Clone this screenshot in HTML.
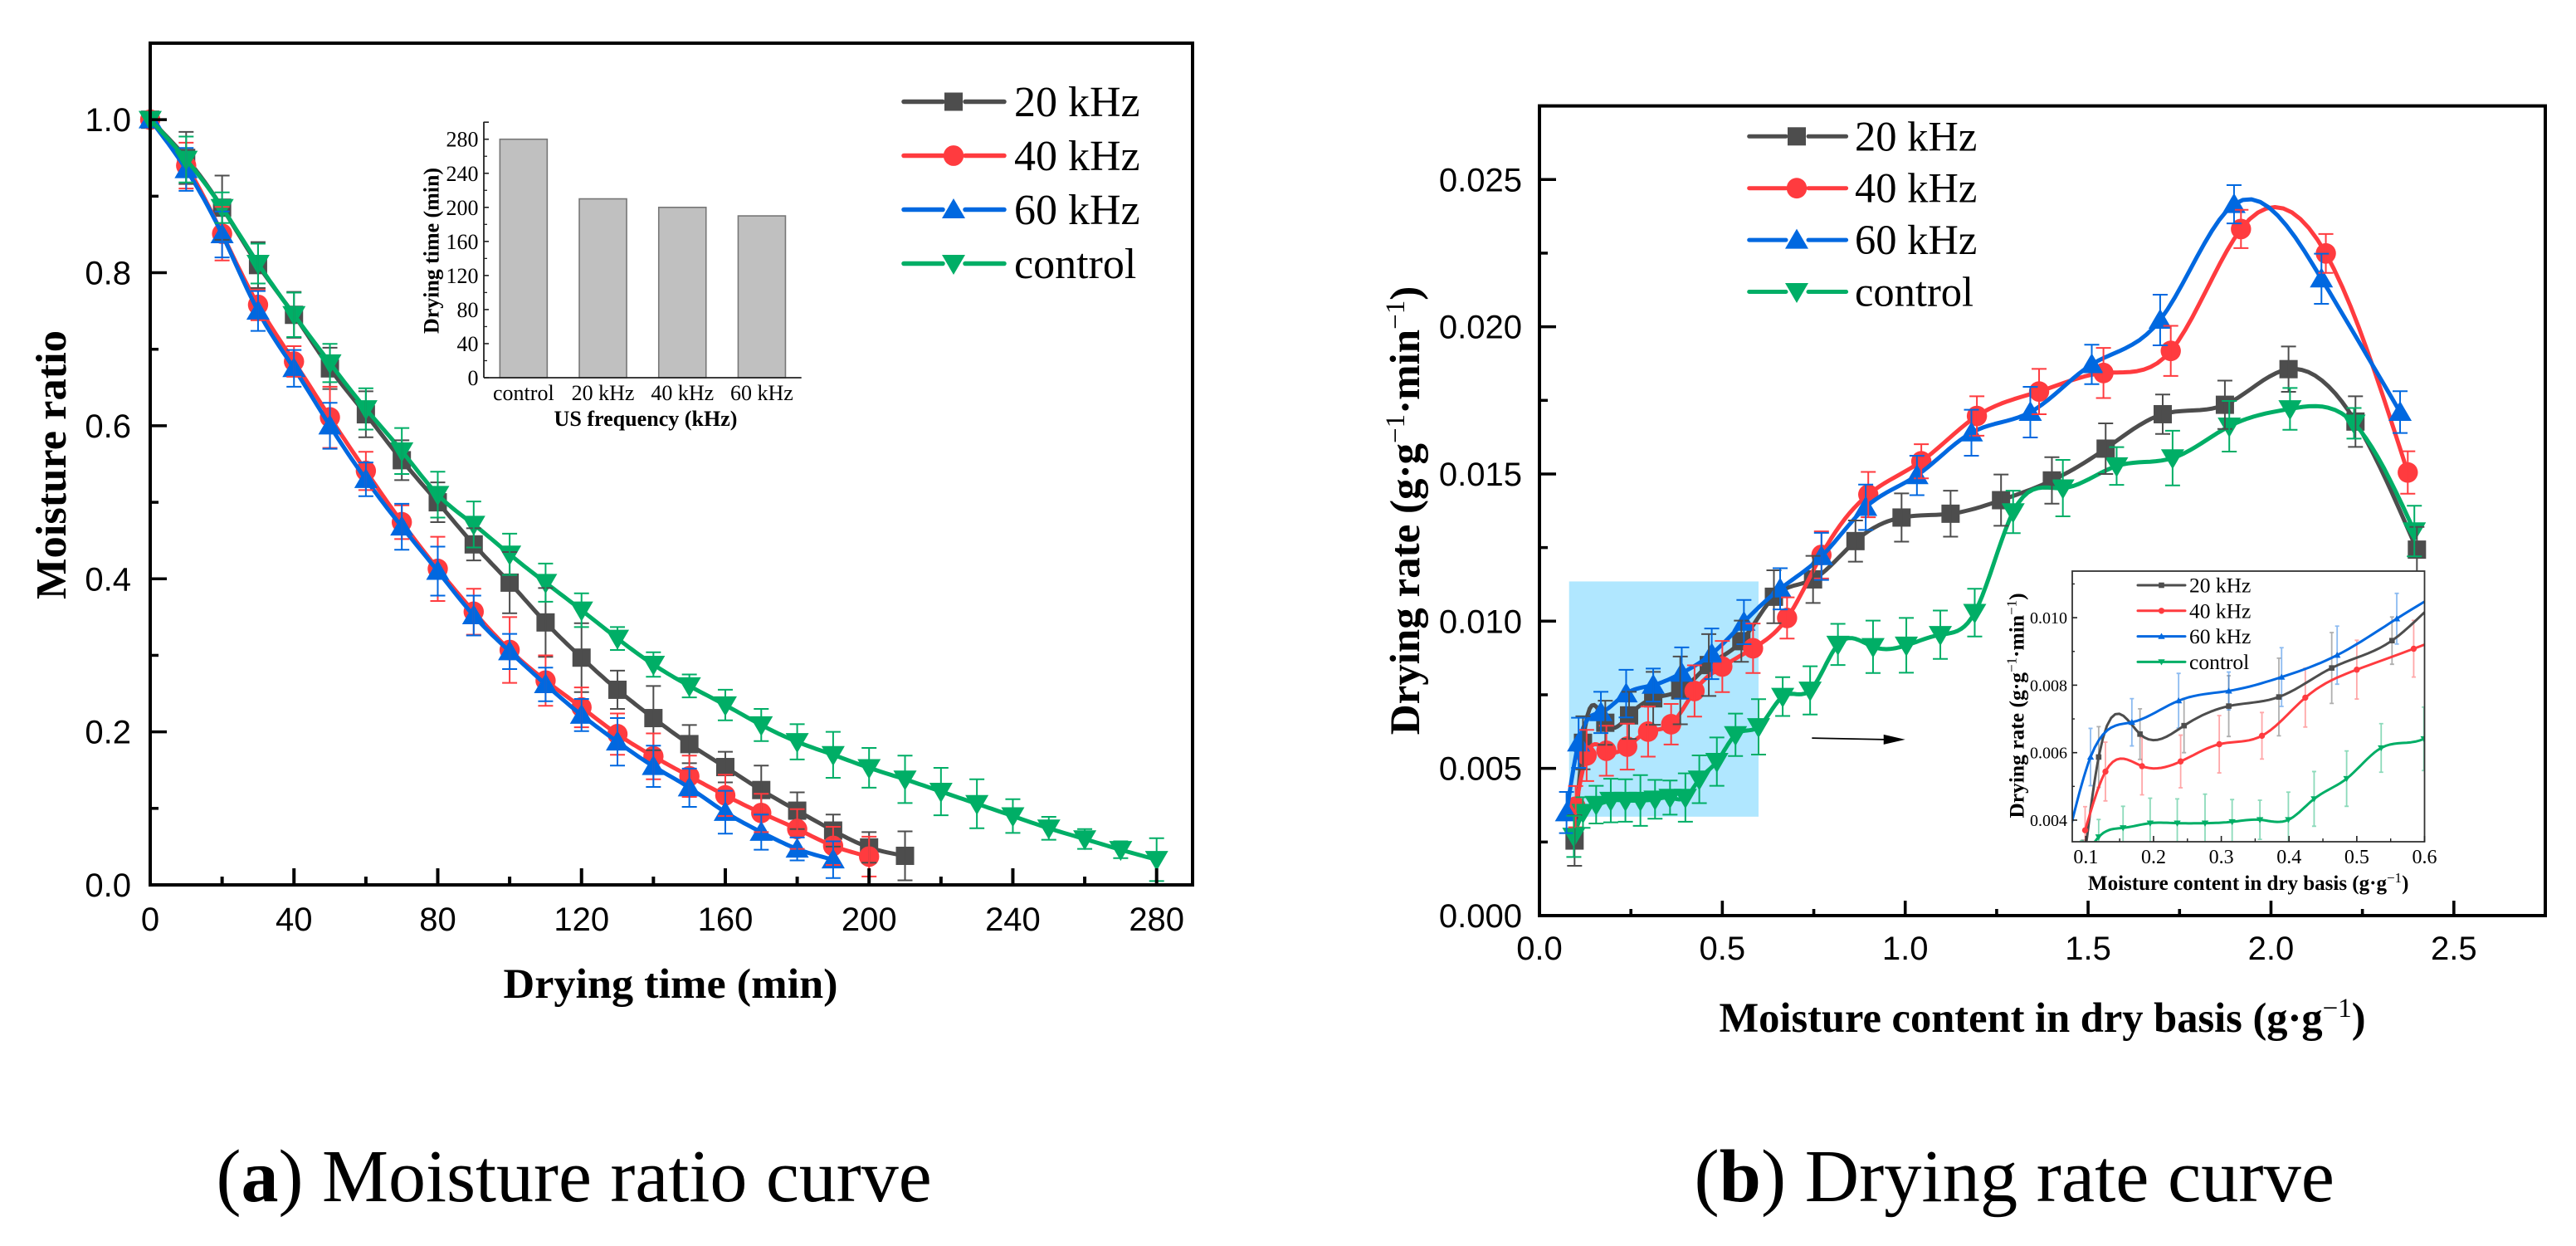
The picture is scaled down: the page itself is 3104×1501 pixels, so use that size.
<!DOCTYPE html>
<html lang="en">
<head>
<meta charset="utf-8">
<title>Moisture ratio and drying rate curves</title>
<style>
html,body{margin:0;padding:0;background:#fff;}
svg{display:block;}
text{fill:#000;}
.sans{font-family:"Liberation Sans",Arial,sans-serif;}
.serif{font-family:"Liberation Serif","Times New Roman",serif;}
.bold{font-weight:bold;}
</style>
</head>
<body>
<svg id="figure" xmlns="http://www.w3.org/2000/svg" width="3104" height="1501" viewBox="0 0 3104 1501">
  <rect x="0" y="0" width="3104" height="1501" fill="#fff"/>
  <defs>
    <clipPath id="inset-clip"><rect x="2497" y="688" width="425" height="326"/></clipPath>
  </defs>

  <g id="panel-a">
    <g id="a-series"></g>
    <g id="a-errors"></g>
    <g id="a-axes"></g>
    <text class="serif bold" x="808" y="1202" font-size="51" text-anchor="middle" textLength="403" lengthAdjust="spacingAndGlyphs">Drying time (min)</text>
    <text class="serif bold" transform="translate(79 560) rotate(-90)" font-size="52" text-anchor="middle" textLength="324" lengthAdjust="spacingAndGlyphs">Moisture ratio</text>
    <g id="a-legend"></g>
    <g id="bar-inset">
      <text class="serif bold" x="778" y="513" font-size="26" text-anchor="middle" textLength="221" lengthAdjust="spacingAndGlyphs">US frequency (kHz)</text>
      <text class="serif bold" transform="translate(528.5 302) rotate(-90)" font-size="26" text-anchor="middle" textLength="200" lengthAdjust="spacingAndGlyphs">Drying time (min)</text>
    </g>
  </g>

  <g id="panel-b">
    <g id="b-highlight"></g>
    <g id="b-series"></g>
    <g id="b-errors"></g>
    <g id="b-axes"></g>
    <text class="serif bold" x="2071.5" y="1243" font-size="50.5">Moisture content in dry basis (g·g<tspan font-size="33" font-weight="normal" dy="-18">−1</tspan><tspan dy="18">)</tspan></text>
    <text class="serif bold" transform="translate(1710 615) rotate(-90)" font-size="51" text-anchor="middle">Drying rate (g·g<tspan font-size="33" font-weight="normal" dy="-18">−1</tspan><tspan dy="18">·min</tspan><tspan font-size="33" font-weight="normal" dy="-18">−1</tspan><tspan dy="18">)</tspan></text>
    <g id="b-legend"></g>
    <g id="b-arrow"></g>
    <g id="line-inset">
      <rect x="2497" y="688" width="425" height="326" fill="#fff"/>
      <g id="i-series" clip-path="url(#inset-clip)"></g>
      <g id="i-axes"></g>
      <g id="i-legend"></g>
      <text class="serif bold" x="2516" y="1072" font-size="25">Moisture content in dry basis (g·g<tspan font-size="17" font-weight="normal" dy="-9">−1</tspan><tspan dy="9">)</tspan></text>
      <text class="serif bold" transform="translate(2438.5 850) rotate(-90)" font-size="25.5" text-anchor="middle">Drying rate (g·g<tspan font-size="17" font-weight="normal" dy="-9">−1</tspan><tspan dy="9">·min</tspan><tspan font-size="17" font-weight="normal" dy="-9">−1</tspan><tspan dy="9">)</tspan></text>
    </g>
  </g>

  <text class="serif" x="260.5" y="1447" font-size="90">(<tspan font-weight="bold">a</tspan>) Moisture ratio curve</text>
  <text class="serif" x="2041.5" y="1447" font-size="90.5">(<tspan font-weight="bold">b</tspan>) Drying rate curve</text>
</svg>

<script>
// ---------- Panel (a) data ----------
const time20 = [0,10,20,30,40,50,60,70,80,90,100,110,120,130,140,150,160,170,180,190,200,210];
const ratio20 = [1,0.95,0.885,0.81,0.745,0.675,0.615,0.555,0.5,0.445,0.395,0.343,0.297,0.255,0.218,0.184,0.154,0.124,0.097,0.071,0.049,0.038];
const ratioErr20 = [0,0.034,0.042,0.03,0.03,0.027,0.03,0.026,0.026,0.021,0.04,0.045,0.045,0.025,0.042,0.025,0.02,0.032,0.024,0.021,0.02,0.032];
const time40 = [0,10,20,30,40,50,60,70,80,90,100,110,120,130,140,150,160,170,180,190,200];
const ratio40 = [1,0.94,0.851,0.758,0.684,0.611,0.541,0.474,0.413,0.357,0.307,0.267,0.232,0.197,0.168,0.142,0.117,0.094,0.073,0.051,0.037];
const ratioErr40 = [0,0.03,0.035,0.02,0.02,0.04,0.025,0.022,0.042,0.03,0.043,0.033,0.026,0.027,0.03,0.027,0.027,0.025,0.026,0.025,0.026];
const time60 = [0,10,20,30,40,50,60,70,80,90,100,110,120,130,140,150,160,170,180,190];
const ratio60 = [1,0.935,0.85,0.75,0.675,0.6,0.53,0.468,0.41,0.352,0.305,0.262,0.222,0.187,0.155,0.127,0.095,0.069,0.047,0.033];
const ratioErr60 = [0,0.028,0.03,0.026,0.024,0.03,0.022,0.03,0.032,0.026,0.023,0.022,0.021,0.031,0.027,0.025,0.028,0.023,0.015,0.024];
const timeControl = [0,10,20,30,40,50,60,70,80,90,100,110,120,130,140,150,160,170,180,190,200,210,220,230,240,250,260,270,280];
const ratioControl = [1,0.948,0.885,0.812,0.745,0.682,0.622,0.567,0.51,0.471,0.432,0.395,0.359,0.322,0.288,0.26,0.235,0.209,0.187,0.17,0.153,0.138,0.122,0.106,0.09,0.074,0.06,0.046,0.033];
const ratioErrControl = [0,0.03,0.02,0.026,0.029,0.025,0.027,0.03,0.03,0.03,0.027,0.025,0.022,0.015,0.016,0.015,0.02,0.021,0.023,0.03,0.026,0.031,0.031,0.032,0.022,0.015,0.013,0.011,0.028];
const timeTicks = [0,40,80,120,160,200,240,280];
const ratioTicks = [0,0.2,0.4,0.6,0.8,1];
const ratioTickLabels = ["0.0","0.2","0.4","0.6","0.8","1.0"];

// ---------- Bar inset data ----------
const barCategories = ["control","20 kHz","40 kHz","60 kHz"];
const barValues = [280,210,200,190];
const barTicks = [0,40,80,120,160,200,240,280];

// ---------- Panel (b) data ----------
const moisture20 = [0.096,0.119,0.18,0.245,0.311,0.385,0.463,0.552,0.641,0.748,0.864,0.99,1.124,1.262,1.401,1.548,1.704,1.874,2.048,2.231,2.399];
const rate20 = [0.00255,0.00587,0.00655,0.0068,0.00738,0.00765,0.00851,0.00932,0.01083,0.01142,0.01272,0.01352,0.01365,0.01411,0.01478,0.01586,0.01703,0.01735,0.01856,0.01678,0.01243];
const rateErr20 = [0.00086,0.0009,0.00075,0.0008,0.0009,0.00115,0.00105,0.0007,0.0009,0.0008,0.0007,0.00082,0.00078,0.00087,0.00079,0.00086,0.00067,0.00082,0.00077,0.00086,0.00077];
const moisture40 = [0.099,0.129,0.183,0.24,0.297,0.36,0.424,0.5,0.584,0.677,0.771,0.899,1.044,1.196,1.366,1.542,1.726,1.918,2.15,2.374];
const rate40 = [0.0037,0.00544,0.0056,0.00574,0.00625,0.0065,0.00763,0.00846,0.00908,0.01011,0.01225,0.0143,0.01543,0.01697,0.0178,0.01843,0.01918,0.02332,0.02249,0.01505];
const rateErr40 = [0.0007,0.00087,0.00085,0.00078,0.00085,0.00069,0.00087,0.00087,0.00084,0.0007,0.0008,0.00077,0.00058,0.00067,0.00077,0.00085,0.00085,0.00065,0.00066,0.00072];
const moisture60 = [0.074,0.107,0.168,0.237,0.311,0.389,0.471,0.559,0.658,0.771,0.892,1.032,1.181,1.342,1.51,1.697,1.899,2.138,2.353];
const rate60 = [0.0035,0.00587,0.0069,0.00754,0.00783,0.00824,0.00889,0.00997,0.0111,0.0122,0.01387,0.01495,0.0164,0.0171,0.01872,0.02023,0.02416,0.02163,0.0171];
const rateErr60 = [0.0007,0.00085,0.0007,0.00081,0.00056,0.00087,0.00086,0.00075,0.0007,0.0008,0.00077,0.00067,0.00078,0.00086,0.00067,0.00086,0.00065,0.00085,0.00071];
const moistureControl = [0.094,0.119,0.155,0.195,0.235,0.276,0.316,0.357,0.399,0.437,0.485,0.536,0.599,0.665,0.74,0.816,0.912,1.003,1.096,1.19,1.295,1.431,1.578,1.731,1.886,2.052,2.227,2.392];
const rateControl = [0.00269,0.0035,0.00377,0.00391,0.00391,0.00391,0.00395,0.00401,0.00401,0.00463,0.00523,0.00614,0.00641,0.00744,0.00765,0.00921,0.00913,0.00918,0.00954,0.01029,0.01371,0.01452,0.01527,0.01554,0.01662,0.01721,0.01672,0.01306];
const rateErrControl = [0.0007,0.00052,0.00064,0.00074,0.00072,0.00086,0.00066,0.00058,0.00082,0.00081,0.00082,0.00072,0.00094,0.00066,0.00082,0.0007,0.00089,0.00093,0.00082,0.00081,0.00072,0.00096,0.00064,0.00093,0.00086,0.00071,0.00052,0.00086];
const moistureTicks = [0,0.5,1,1.5,2,2.5];
const moistureTickLabels = ["0.0","0.5","1.0","1.5","2.0","2.5"];
const rateTicks = [0,0.005,0.01,0.015,0.02,0.025];
const rateTickLabels = ["0.000","0.005","0.010","0.015","0.020","0.025"];
const insetMoistureTicks = [0.1,0.2,0.3,0.4,0.5,0.6];
const insetMoistureLabels = ["0.1","0.2","0.3","0.4","0.5","0.6"];
const insetRateTicks = [0.004,0.006,0.008,0.01];
const insetRateLabels = ["0.004","0.006","0.008","0.010"];
const highlightRegion = [0.081,0.599,0.00336,0.01135];
const arrowSpan = [0.745,1.0,0.00603,0.00598];
const legendLabels = ["20 kHz","40 kHz","60 kHz","control"];

// ---------- Helpers ----------
const NS = "http://www.w3.org/2000/svg";
const colors = ["#4d4d4d","#ff3b3f","#0068e0","#00ae66"];
const shapes = ["square","circle","up","down"];
function scale(d0,d1,r0,r1){ return v => r0 + (v-d0)*(r1-r0)/(d1-d0); }
function mk(parent,tag,attrs){
  const el = document.createElementNS(NS,tag);
  for(const k in attrs){ el.setAttribute(k,attrs[k]); }
  parent.appendChild(el);
  return el;
}
function $(id){ return document.getElementById(id); }

// natural cubic spline through (xs, ys) returning SVG path through axis functions
function splinePath(xs,ys,fx,fy){
  const n = xs.length, h = [], a = new Array(n).fill(0), b = new Array(n).fill(0), m = new Array(n).fill(0);
  for(let i=0;i<n-1;i++){ h[i] = xs[i+1]-xs[i]; }
  const c = new Array(n).fill(0), d = new Array(n).fill(0);
  for(let i=1;i<n-1;i++){
    const diag = 2*(h[i-1]+h[i]) - h[i-1]*c[i-1];
    c[i] = h[i]/diag;
    const rhs = 6*((ys[i+1]-ys[i])/h[i]-(ys[i]-ys[i-1])/h[i-1]);
    d[i] = (rhs - h[i-1]*d[i-1])/diag;
  }
  for(let i=n-2;i>0;i--){ m[i] = d[i]-c[i]*m[i+1]; }
  let path = "M"+fx(xs[0]).toFixed(1)+" "+fy(ys[0]).toFixed(1);
  for(let i=0;i<n-1;i++){
    for(let s=1;s<=10;s++){
      const t = s/10, A = 1-t, B = t;
      const y = A*ys[i]+B*ys[i+1]+((A*A*A-A)*m[i]+(B*B*B-B)*m[i+1])*h[i]*h[i]/6;
      const x = xs[i]+t*h[i];
      path += "L"+fx(x).toFixed(1)+" "+fy(y).toFixed(1);
    }
  }
  return path;
}
function drawMarker(g,idx,cx,cy,k){
  const col = colors[idx], sh = shapes[idx];
  let el;
  if(sh==="square"){
    el = mk(g,"rect",{x:cx-11*k,y:cy-11*k,width:22*k,height:22*k,fill:col});
  } else if(sh==="circle"){
    el = mk(g,"ellipse",{cx:cx,cy:cy,rx:12.2*k,ry:12.4*k,fill:col});
  } else if(sh==="up"){
    el = mk(g,"polygon",{points:(cx-14*k)+","+(cy+10.5*k)+" "+(cx+14*k)+","+(cy+10.5*k)+" "+cx+","+(cy-13.5*k),fill:col});
  } else {
    el = mk(g,"polygon",{points:(cx-14*k)+","+(cy-10.5*k)+" "+(cx+14*k)+","+(cy-10.5*k)+" "+cx+","+(cy+13.5*k),fill:col});
  }
  
  
  return el;
}
function drawSeries(g,xs,ys,idx,fx,fy,lw,k){
  const line = mk(g,"path",{d:splinePath(xs,ys,fx,fy),fill:"none",stroke:colors[idx],"stroke-width":lw,"stroke-linejoin":"round","stroke-linecap":"round"});
  
  
  for(let i=0;i<xs.length;i++){ drawMarker(g,idx,fx(xs[i]),fy(ys[i]),k); }
}
function drawErrors(g,xs,ys,es,idx,fx,fy,lw,cap,op){
  for(let i=0;i<xs.length;i++){
    if(es[i]===0) continue;
    const x = fx(xs[i]), t = fy(ys[i]+es[i]), b = fy(ys[i]-es[i]);
    const bar = mk(g,"path",{d:"M"+x+" "+t+"V"+b+"M"+(x-cap)+" "+t+"H"+(x+cap)+"M"+(x-cap)+" "+b+"H"+(x+cap),fill:"none",stroke:colors[idx],"stroke-width":lw,"stroke-opacity":op});
    
    
  }
}
function tickLine(g,x1,y1,x2,y2,w,col){
  const t = mk(g,"line",{x1:x1,y1:y1,x2:x2,y2:y2,stroke:col,"stroke-width":w});
  
  
}
function label(g,x,y,str,cls,size,anchor){
  const t = mk(g,"text",{x:x,y:y,"class":cls,"font-size":size,"text-anchor":anchor});
  t.textContent = str;
  
  
  return t;
}
function frame(g,x,y,w,h,sw,col){
  const f = mk(g,"rect",{x:x,y:y,width:w,height:h,fill:"none",stroke:col,"stroke-width":sw});
  
  
}

// ---------- Panel (a) ----------
const xA = scale(0,290,181,1437);
const yA = scale(0,1.1,1066,52);
const aTimes = [time20,time40,time60,timeControl];
const aVals = [ratio20,ratio40,ratio60,ratioControl];
const aErrs = [ratioErr20,ratioErr40,ratioErr60,ratioErrControl];
for(let i=0;i<4;i++){ drawSeries($("a-series"),aTimes[i],aVals[i],i,xA,yA,5,1); }
for(let i=0;i<4;i++){ drawErrors($("a-errors"),aTimes[i],aVals[i],aErrs[i],i,xA,yA,2,9,1); }
(function(){
  const g = $("a-axes");
  frame(g,181,52,1256,1014,4,"#000");
  timeTicks.forEach(function(t,i){
    tickLine(g,xA(t),1066,xA(t),1046,4,"#000");
    label(g,xA(t),1121,String(t),"sans",40,"middle");
    if(i<timeTicks.length-1){ tickLine(g,xA(t+20),1066,xA(t+20),1056,4,"#000"); }
  });
  ratioTicks.forEach(function(v,i){
    tickLine(g,181,yA(v),201,yA(v),3.5,"#000");
    label(g,158,yA(v)+14,ratioTickLabels[i],"sans",40,"end");
    if(i<ratioTicks.length-1){ tickLine(g,181,yA(v+0.1),191,yA(v+0.1),3.5,"#000"); }
  });
})();
function drawLegend(g,x0,seg1,seg2,x1,mx,tx,row0,step,size,lw,k,base){
  legendLabels.forEach(function(name,i){
    const y = row0+i*step;
    const entry = mk(g,"g",{});
    
    
    const d = seg1===null ? "M"+x0+" "+y+"H"+x1 : "M"+x0+" "+y+"H"+seg1+"M"+seg2+" "+y+"H"+x1;
    const l = mk(entry,"path",{d:d,stroke:colors[i],"stroke-width":lw,"stroke-linecap":"round",fill:"none"});
    
    
    drawMarker(entry,i,mx,y,k);
    const t = mk(entry,"text",{x:tx,y:y+base,"class":"serif","font-size":size});
    t.textContent = name;
    
    
  });
}
drawLegend($("a-legend"),1089,1136,1163,1210,1149,1222,122.5,65,52,5.5,1,17.5);

// ---------- Bar inset ----------
(function(){
  const g = $("bar-inset");
  const yB = scale(0,300,455,147.2);
  const bandX = i => 583 + (i+0.5)*95.7;
  barValues.forEach(function(v,i){
    const bar = mk(g,"rect",{x:bandX(i)-28.5,y:yB(v),width:57,height:455-yB(v),fill:"#c0c0c0",stroke:"#777","stroke-width":1.6});
    
    
    label(g,bandX(i),482,barCategories[i],"serif",26,"middle");
  });
  tickLine(g,583,455,965.7,455,1.8,"#222");
  tickLine(g,583,146.7,583,455,1.8,"#222");
  barTicks.forEach(function(v,i){
    tickLine(g,583,yB(v),589,yB(v),1.6,"#222");
    label(g,576.5,yB(v)+9,String(v),"serif",26,"end");
    tickLine(g,583,yB(v+20),587,yB(v+20),1.3,"#222");
  });
  tickLine(g,583,yB(300),589,yB(300),1.6,"#222");
})();

// ---------- Panel (b) ----------
const xB = scale(0,2.75,1855,3067);
const yB2 = scale(0,0.0275,1103,127.6);
const bXs = [moisture20,moisture40,moisture60,moistureControl];
const bYs = [rate20,rate40,rate60,rateControl];
const bEs = [rateErr20,rateErr40,rateErr60,rateErrControl];
(function(){
  const r = mk($("b-highlight"),"rect",{x:xB(highlightRegion[0]),y:yB2(highlightRegion[3]),width:xB(highlightRegion[1])-xB(highlightRegion[0]),height:yB2(highlightRegion[2])-yB2(highlightRegion[3]),fill:"#b0e7ff"});
  
  
})();
for(let i=0;i<4;i++){ drawSeries($("b-series"),bXs[i],bYs[i],i,xB,yB2,5,1); }
for(let i=0;i<4;i++){ drawErrors($("b-errors"),bXs[i],bYs[i],bEs[i],i,xB,yB2,2,9,1); }
(function(){
  const g = $("b-axes");
  frame(g,1855,127.6,1212,975.4,4,"#000");
  moistureTicks.forEach(function(v,i){
    tickLine(g,xB(v),1103,xB(v),1085,3.6,"#000");
    label(g,xB(v),1156,moistureTickLabels[i],"sans",40,"middle");
    tickLine(g,xB(v+0.25),1103,xB(v+0.25),1095,3.6,"#000");
  });
  rateTicks.forEach(function(v,i){
    tickLine(g,1855,yB2(v),1875,yB2(v),3.5,"#000");
    label(g,1834,yB2(v)+14,rateTickLabels[i],"sans",40,"end");
    tickLine(g,1855,yB2(v+0.0025),1865,yB2(v+0.0025),3.5,"#000");
  });
})();
drawLegend($("b-legend"),2107.7,2152,2179,2224.6,2165,2235,164.3,62.4,50.5,5,1,17);
(function(){
  const g = $("b-arrow");
  const x0 = xB(arrowSpan[0]), x1 = xB(arrowSpan[1]), y0 = yB2(arrowSpan[2]), y1 = yB2(arrowSpan[3]);
  const shaft = mk(g,"line",{x1:x0,y1:y0,x2:x1-25,y2:y1,stroke:"#000","stroke-width":1.8});
  
  
  const head = mk(g,"polygon",{points:(x1-26)+","+(y1-6)+" "+x1+","+y1+" "+(x1-26)+","+(y1+6),fill:"#000"});
  
  
})();

// ---------- Line inset ----------
const xI = scale(0.08,0.6,2497,2921.5);
const yI = scale(0.00336,0.01138,1014,688);
(function(){
  const g = $("i-series");
  for(let i=0;i<4;i++){ drawErrors(g,bXs[i],bYs[i],bEs[i],i,xI,yI,1.8,2.5,0.45); }
  for(let i=0;i<4;i++){ drawSeries(g,bXs[i],bYs[i],i,xI,yI,3,0.3); }
  const a = $("i-axes");
  frame(a,2497,688,424.5,326,1.8,"#333");
  insetMoistureTicks.forEach(function(v,i){
    tickLine(a,xI(v),1014,xI(v),1007,1.6,"#222");
    label(a,xI(v),1040,insetMoistureLabels[i],"serif",24,"middle");
    if(v<0.55){ tickLine(a,xI(v+0.05),1014,xI(v+0.05),1010,1.4,"#222"); }
  });
  insetRateTicks.forEach(function(v,i){
    tickLine(a,2497,yI(v),2503,yI(v),1.6,"#222");
    label(a,2491,yI(v)+7,insetRateLabels[i],"serif",20,"end");
    tickLine(a,2497,yI(v+0.001),2500,yI(v+0.001),1.4,"#222");
  });
})();
drawLegend($("i-legend"),2576,null,null,2633,2604.5,2638,705,30.8,25.5,3,0.3,8.5);
</script>
</body>
</html>
